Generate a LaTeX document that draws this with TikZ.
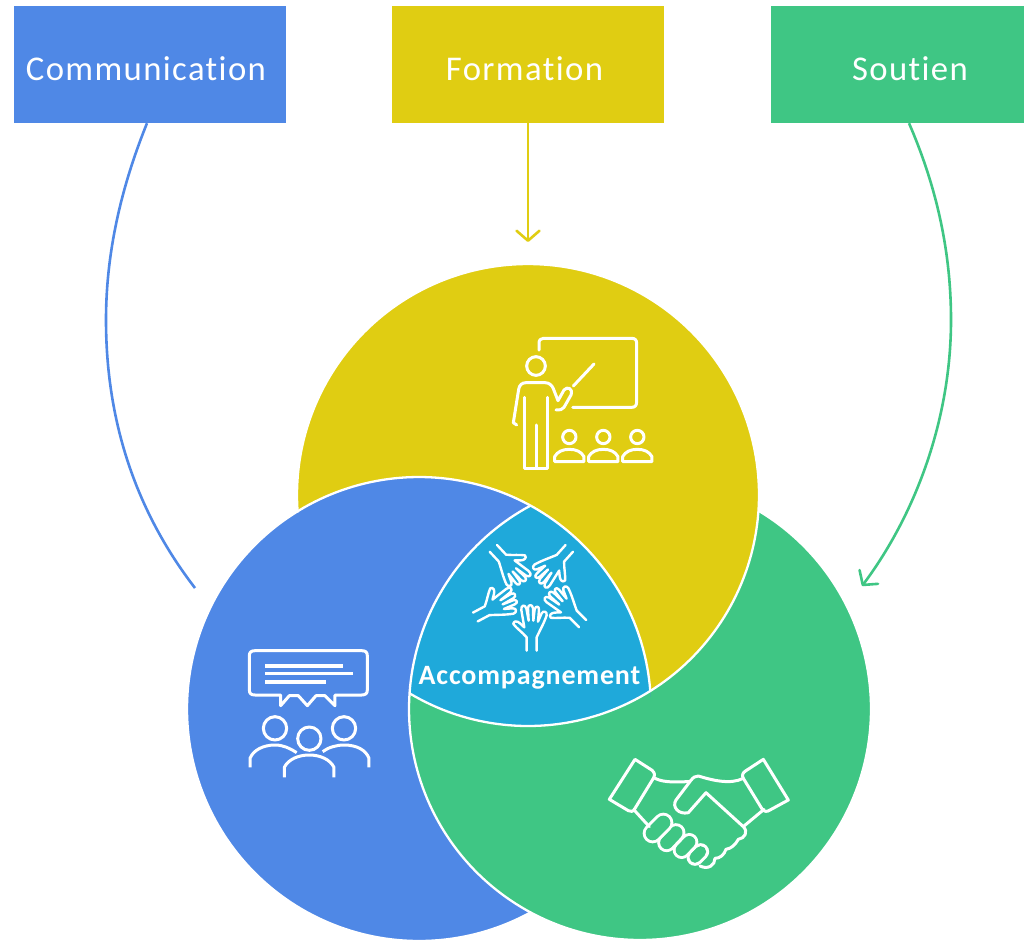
\documentclass[tikz,border=0pt]{standalone}
\usepackage{fontspec}
\setmainfont{Carlito}
\newfontfamily\spaced[LetterSpace=4,Ligatures=NoCommon]{Carlito}
\newfontfamily\spacedb[LetterSpace=3,Ligatures=NoCommon]{Carlito Bold}
\usetikzlibrary{arrows.meta}
\definecolor{cblue}{HTML}{4F88E6}
\definecolor{cyellow}{HTML}{E0CD12}
\definecolor{cgreen}{HTML}{3FC684}
\definecolor{ccyan}{HTML}{1FA9DA}
\newcommand\boxtxt[2]{\hspace*{#1}\raisebox{-15.5pt}[0pt][0pt]{#2}}
\tikzset{
  topbox/.style={rectangle,draw=none,minimum height=117pt,inner sep=0pt,text=white,font=\spaced\fontsize{34.7}{38}\selectfont},
  ring/.style={draw=white,line width=2.3pt,line join=round},
  icon/.style={draw=white,line width=3pt,line cap=round,line join=round},
  handline/.style={draw=white,line width=2.4pt,line cap=round,line join=round},
  openhead/.style={-{Straight Barb[length=10pt,width=23pt,line width=2.6pt,round]}},
  link/.style={line width=2.6pt},
}
\begin{document}
\begin{tikzpicture}[x=1pt,y=-1pt]
\useasboundingbox (0,0) rectangle (1024,940);
\fill[white] (0,0) rectangle (1024,940);
% boxes
\node[topbox,fill=cblue,minimum width=272pt] (comm) at (150,64.5) {\boxtxt{-8pt}{Communication}};
\node[topbox,fill=cyellow,minimum width=272pt] (form) at (528,64.5) {\boxtxt{-7pt}{Formation}};
\node[topbox,fill=cgreen,minimum width=253pt] (sout) at (897.5,64.5) {\boxtxt{25pt}{Soutien}};
\coordinate (commend) at (195,588);
\coordinate (formend) at (528,242);
\coordinate (soutend) at (862,586);
% connectors
\draw[cblue,link] ([xshift=-3pt]comm.south) .. controls (118,195) and (106,260) .. (106,320) .. controls (106,420) and (135,510) .. (commend);
\draw[cyellow,link,openhead] (form.south) -- (formend);
\draw[cgreen,link,openhead] ([xshift=11.5pt]sout.south) .. controls (938,190) and (951,255) .. (951,320) .. controls (951,420) and (915,515) .. (soutend);
% circles
\def\Ycirc{(528,495) circle[radius=231]}
\def\Bcirc{(419,709) circle[radius=232]}
\def\Gcirc{(640,709) circle[radius=231]}
\fill[cgreen] \Gcirc;
\fill[cyellow] \Ycirc;
\fill[cblue] \Bcirc;
\begin{scope}
\clip \Bcirc;
\fill[cgreen] \Gcirc;
\end{scope}
\begin{scope}
\clip \Bcirc;
\clip \Gcirc;
\fill[ccyan] \Ycirc;
\end{scope}
\draw[cgreen,line width=2pt] plot[domain=357:421,samples=80] ({419+232*cos(\x)},{709+232*sin(\x)});
\draw[ring] plot[domain=175.7:480.8,samples=200] ({528+231*cos(\x)},{495+231*sin(\x)});
\draw[ring] plot[domain=-59.1:241.7,samples=200] ({640+231*cos(\x)},{709+231*sin(\x)});
\draw[ring] plot[domain=61.3:355.7,samples=200] ({419+232*cos(\x)},{709+232*sin(\x)});
% teacher icon
\begin{scope}[shift={(490,320)},x=0.3333pt,y=-0.3333pt]
\draw[icon] (147,90) -- (147,70) .. controls (147,60) and (152,55) .. (160,55) -- (425,55) .. controls (435,55) and (440,60) .. (440,70) -- (440,245) .. controls (440,257) and (435,262) .. (425,262) -- (248,262);
\draw[icon] (138,138) circle[radius=28];
\draw[icon] (80,315) -- (70,308) -- (86,208) .. controls (88,195) and (96,188) .. (108,188) -- (165,188) .. controls (178,188) and (186,196) .. (190,206) -- (204,242) -- (222,210) .. controls (232,198) and (250,205) .. (243,225) -- (222,262) .. controls (218,270) and (208,270) .. (198,270);
\draw[icon] (250,198) -- (312,132);
\draw[icon] (104,232) -- (104,445) -- (172,445) -- (172,232);
\draw[icon] (138,315) -- (138,445);
\foreach \cx in {238,340,442}{
  \draw[icon] (\cx,351) circle[radius=20];
  \draw[icon] (\cx-44,425) -- (\cx+44,425) -- (\cx+44,410) .. controls (\cx+36,395) and (\cx+20,388) .. (\cx,388) .. controls (\cx-20,388) and (\cx-36,395) .. (\cx-44,410) -- cycle;
}
\end{scope}
% hands icon
\begin{scope}[shift={(400,500)},x=0.3333pt,y=-0.3333pt]
\foreach \a/\wx/\wy in {0/395/452,62/226/351,137/280/145,222/508/145,315/548/371}{
\begin{scope}[shift={(\wx-395,\wy-452)},rotate around={-\a:(395,452)}]
\draw[handline] (380,452) -- (380,412) .. controls (365,395) and (350,385) .. (340,372) .. controls (340,362) and (352,362) .. (360,370) -- (373,382) -- (364,330) .. controls (362,315) and (375,312) .. (379,325) -- (386,362) -- (384,325) .. controls (384,312) and (398,312) .. (399,325) -- (400,362) -- (404,328) .. controls (407,316) and (418,318) .. (417,330) -- (414,365) -- (425,340) .. controls (430,330) and (442,335) .. (440,346) .. controls (432,370) and (420,390) .. (410,412) -- (410,452);
\end{scope}
}
\end{scope}
\node[text=white,inner sep=0pt,font=\spacedb\fontsize{28}{31}\selectfont] (acc) at (529.5,677.5) {Accompagnement};
% speech icon
\begin{scope}[shift={(230,640)},x=0.3333pt,y=-0.3333pt]
\draw[icon] (75,165) .. controls (63,165) and (58,160) .. (58,150) -- (58,47) .. controls (58,37) and (63,32) .. (75,32) -- (395,32) .. controls (407,32) and (412,37) .. (412,47) -- (412,150) .. controls (412,160) and (407,165) .. (395,165) -- (315,165) -- (315,197) -- (285,167) -- (258,167) -- (232,197) -- (205,167) -- (178,167) -- (152,197) -- (152,165) -- cycle;
\draw[draw=white,line width=3.6pt] (105,78) -- (338,78);
\draw[draw=white,line width=3.6pt] (105,101) -- (368,101);
\draw[draw=white,line width=3.2pt] (105,126) -- (288,126);
\draw[icon] (135,265) circle[radius=35];
\draw[icon] (238,296) circle[radius=35];
\draw[icon] (342,265) circle[radius=35];
\draw[icon,line cap=butt] (60,382) -- (60,355) .. controls (70,330) and (100,315) .. (135,315) .. controls (160,315) and (180,325) .. (200,338);
\draw[icon,line cap=butt] (278,335) .. controls (295,322) and (320,315) .. (342,315) .. controls (380,315) and (408,330) .. (417,355) -- (417,382);
\draw[icon,line cap=butt] (163,412) -- (163,382) .. controls (175,358) and (205,345) .. (238,345) .. controls (270,345) and (300,358) .. (312,382) -- (312,412);
\end{scope}
% handshake icon
\begin{scope}[shift={(600,750)},x=0.3333pt,y=-0.3333pt]
\foreach \p/\q/\w in {{(285,322)}/{(302,305)}/11pt,{(245,300)}/{(268,276)}/12pt,{(200,278)}/{(228,248)}/13pt,{(158,250)}/{(190,218)}/14pt}{
  \draw[white,line width=\w+6pt,line cap=round] \p -- \q;
  \draw[cgreen,line width=\w,line cap=round] \p -- \q;
}
\draw[icon] (105,28) -- (155,60) .. controls (165,68) and (165,75) .. (160,85) -- (105,175) .. controls (100,185) and (92,187) .. (85,182) -- (28,148) -- cycle;
\draw[icon] (490,28) -- (565,150) -- (510,180) .. controls (500,187) and (492,185) .. (485,175) -- (430,85) .. controls (425,75) and (428,68) .. (438,62) -- cycle;
\draw[icon] (165,85) .. controls (195,100) and (235,95) .. (268,95);
\draw[icon] (430,85) .. controls (390,105) and (335,90) .. (295,78) .. controls (285,78) and (280,82) .. (272,92) -- (228,150) .. controls (215,170) and (235,195) .. (265,188) -- (318,128) -- (430,230) .. controls (445,245) and (435,265) .. (415,268) .. controls (405,285) and (395,295) .. (378,298) .. controls (372,315) and (360,325) .. (345,325) .. controls (345,345) and (325,360) .. (300,348);
\draw[icon] (105,183) -- (148,230);
\draw[icon] (432,228) -- (492,178);
\end{scope}
\end{tikzpicture}
\end{document}
